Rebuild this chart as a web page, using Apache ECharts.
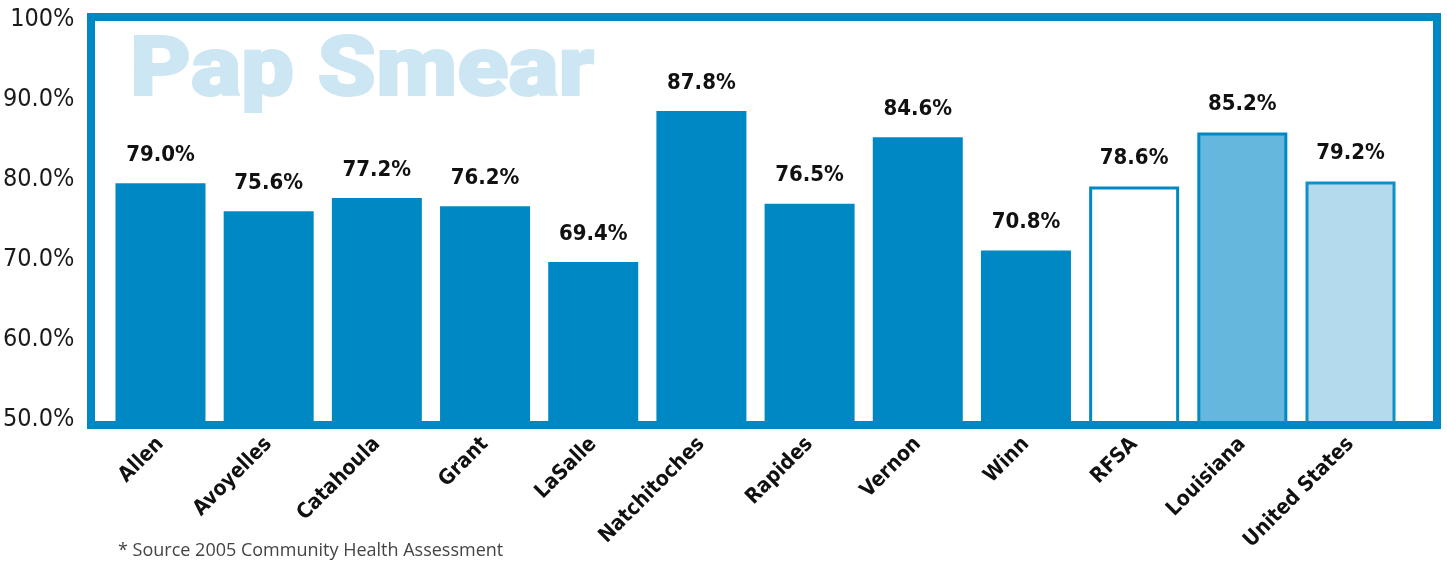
<!DOCTYPE html>
<html>
<head>
<meta charset="utf-8">
<script src="https://cdn.jsdelivr.net/npm/echarts@6/dist/echarts.min.js"></script>
<style>
  html, body { margin: 0; padding: 0; background: #fff; }
  #chart { width: 1447px; height: 561px; }
</style>
</head>
<body>
<div id="chart"></div>
<script>
  var categories = ['Allen', 'Avoyelles', 'Catahoula', 'Grant', 'LaSalle', 'Natchitoches',
                    'Rapides', 'Vernon', 'Winn', 'RFSA', 'Louisiana', 'United States'];
  var papSmear = [79.0, 75.6, 77.2, 76.2, 69.4, 87.8, 76.5, 84.6, 70.8, 78.6, 85.2, 79.2];
  var tickValues = [50, 60, 70, 80, 90, 100];

  var narrow = '"Liberation Sans Narrow", "DejaVu Sans Condensed", sans-serif';
  var blue = '#0088c4';

  var chartDom = document.getElementById('chart');
  var myChart = echarts.init(chartDom);

  function barStyle(i) {
    if (categories[i] === 'RFSA') return { color: '#ffffff', borderColor: blue, borderWidth: 3 };
    if (categories[i] === 'Louisiana') return { color: '#66b7dd', borderColor: blue, borderWidth: 3 };
    if (categories[i] === 'United States') return { color: '#b4dbed', borderColor: '#1090c8', borderWidth: 3 };
    return { color: blue };
  }

  var option = {
    animation: false,
    grid: [
      // bars
      { left: 106.4, right: 42.4, top: 17, bottom: 136 },
      // y labels
      { left: 78, width: 10, top: 19, bottom: 142 }
    ],
    xAxis: [
      {
        type: 'category',
        gridIndex: 0,
        data: categories,
        axisLine: { show: false },
        axisTick: { show: false },
        axisLabel: {
          interval: 0,
          rotate: 45,
          margin: 16,
          fontFamily: narrow,
          fontWeight: 'bold',
          fontSize: 21,
          color: '#111'
        }
      },
      { type: 'value', gridIndex: 1, show: false }
    ],
    yAxis: [
      {
        type: 'value',
        gridIndex: 0,
        min: 49.54,
        max: 99.26,
        show: false
      },
      {
        type: 'value',
        gridIndex: 1,
        min: tickValues[0],
        max: tickValues[tickValues.length - 1],
        interval: 10,
        axisLine: { show: false },
        axisTick: { show: false },
        splitLine: { show: false },
        axisLabel: {
          margin: 8,
          fontFamily: narrow,
          fontSize: 25,
          color: '#1a1a1a',
          formatter: function (v) {
            return v === 100 ? '100%' : v.toFixed(1) + '%';
          }
        }
      }
    ],
    graphic: [
      {
        type: 'text',
        left: 129,
        top: 31,
        z: 0,
        scaleX: 1.12,
        style: {
          text: 'Pap Smear',
          fill: '#cde6f3',
          stroke: '#cde6f3',
          lineWidth: 2,
          font: '900 84px Roboto, "DejaVu Sans", sans-serif'
        }
      },
      {
        type: 'rect',
        z: 100,
        shape: { x: 91, y: 17, width: 1346, height: 408 },
        style: { fill: 'none', stroke: blue, lineWidth: 8 }
      },
      {
        type: 'text',
        left: 118,
        top: 542,
        style: {
          text: '* Source 2005 Community Health Assessment',
          fill: '#444',
          font: '18px "Open Sans", sans-serif'
        }
      }
    ],
    series: [
      {
        name: 'Pap Smear',
        type: 'bar',
        xAxisIndex: 0,
        yAxisIndex: 0,
        barWidth: 90,
        data: papSmear.map(function (v, i) {
          return { value: v, itemStyle: barStyle(i) };
        }),
        label: {
          show: true,
          position: 'top',
          distance: 17,
          fontFamily: narrow,
          fontWeight: 'bold',
          fontSize: 22,
          color: '#111',
          formatter: function (p) {
            return p.value.toFixed(1) + '%';
          }
        }
      }
    ]
  };

  option && myChart.setOption(option);
</script>
</body>
</html>
